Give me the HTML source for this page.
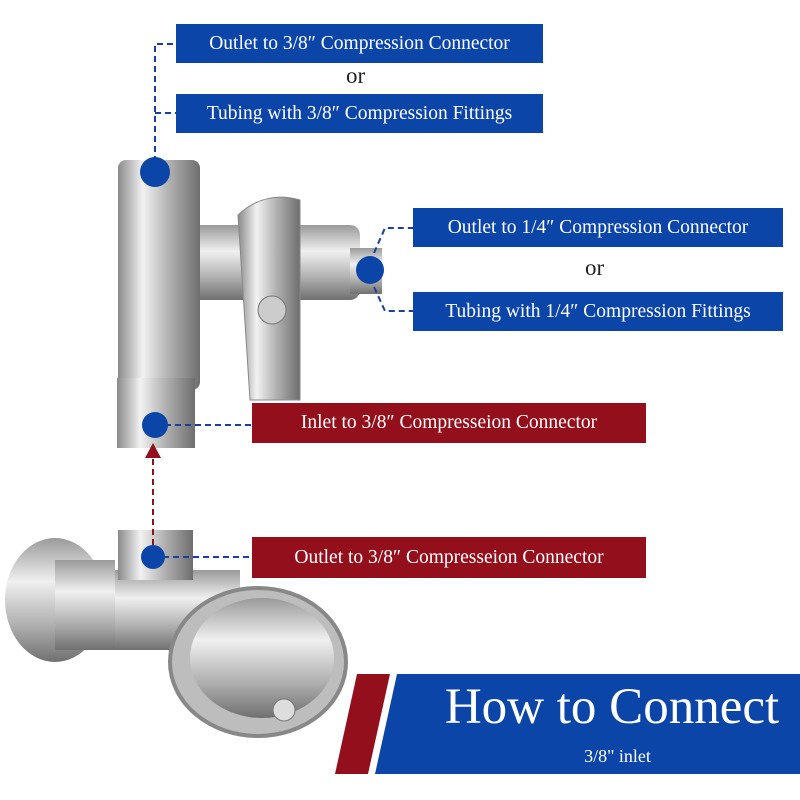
<!DOCTYPE html>
<html><head><style>
body{margin:0;width:800px;height:800px;background:#fff;position:relative;overflow:hidden;font-family:"Liberation Serif",serif}
.b{position:absolute;color:#fff;font-size:19.5px;display:flex;align-items:center;justify-content:center;white-space:nowrap}
.bl{background:#0b45a8}.rd{background:#930f1c}
.t{position:absolute;font-size:23px;color:#222}
</style></head><body>
<svg width="800" height="800" style="position:absolute;left:0;top:0">
<defs>
<linearGradient id="m" x1="0" x2="1"><stop offset="0" stop-color="#8a8a8a"/><stop offset=".3" stop-color="#f2f2f2"/><stop offset=".6" stop-color="#b5b5b5"/><stop offset="1" stop-color="#6e6e6e"/></linearGradient>
<linearGradient id="mv" x1="0" y1="0" x2="0" y2="1"><stop offset="0" stop-color="#9a9a9a"/><stop offset=".35" stop-color="#f0f0f0"/><stop offset=".7" stop-color="#b0b0b0"/><stop offset="1" stop-color="#707070"/></linearGradient>
</defs>
<rect x="190" y="225" width="170" height="75" rx="10" fill="url(#mv)"/>
<rect x="350" y="248" width="32" height="46" fill="url(#mv)"/>
<rect x="118" y="160" width="82" height="230" rx="8" fill="url(#m)"/>
<rect x="117" y="378" width="78" height="70" fill="url(#m)"/>
<path d="M238 215 Q265 190 300 200 L300 400 L250 400 Z" fill="url(#m)" stroke="#888"/>
<circle cx="272" cy="310" r="14" fill="#ccc" stroke="#777"/>
<rect x="100" y="570" width="140" height="80" fill="url(#mv)"/>
<rect x="118" y="530" width="75" height="50" fill="url(#m)"/>
<ellipse cx="55" cy="600" rx="50" ry="62" fill="url(#mv)"/>
<rect x="55" y="560" width="60" height="90" fill="url(#mv)"/>
<ellipse cx="258" cy="662" rx="88" ry="74" fill="#bdbdbd" stroke="#888" stroke-width="4"/>
<ellipse cx="262" cy="658" rx="72" ry="60" fill="url(#mv)"/>
<circle cx="284" cy="710" r="11" fill="#ddd" stroke="#777"/>
<g stroke="#1a3fa0" stroke-width="2" stroke-dasharray="6,4" fill="none">
<path d="M155 172 V44 H176"/><path d="M155 113 H176"/>
<path d="M370 262 L385 228 H413"/><path d="M370 278 L385 311 H413"/>
<path d="M155 425 H252"/><path d="M153 557 H252"/>
</g>
<path d="M153 545 V455" stroke="#930f1c" stroke-width="2" stroke-dasharray="6,4"/>
<path d="M145 458 L153 443 L161 458 Z" fill="#930f1c"/>
<g fill="#0b45a8"><circle cx="155" cy="172" r="15"/><circle cx="370" cy="270" r="14"/><circle cx="155" cy="425" r="13"/><circle cx="153" cy="557" r="12"/></g>
<path d="M357 674 H390 L368 774 H335 Z" fill="#930f1c"/>
<path d="M397 674 H800 V774 H375 Z" fill="#0b45a8"/>
</svg>
<div class="b bl" style="left:176px;top:24px;width:367px;height:39px">Outlet to 3/8″ Compression Connector</div>
<div class="t" style="left:346px;top:63px">or</div>
<div class="b bl" style="left:176px;top:94px;width:367px;height:39px">Tubing with 3/8″ Compression Fittings</div>
<div class="b bl" style="left:413px;top:208px;width:370px;height:39px">Outlet to 1/4″ Compression Connector</div>
<div class="t" style="left:585px;top:255px">or</div>
<div class="b bl" style="left:413px;top:292px;width:370px;height:39px">Tubing with 1/4″ Compression Fittings</div>
<div class="b rd" style="left:252px;top:403px;width:394px;height:40px">Inlet to 3/8″ Compresseion Connector</div>
<div class="b rd" style="left:252px;top:537px;width:394px;height:41px">Outlet to 3/8″ Compresseion Connector</div>
<div style="position:absolute;left:412px;top:678px;width:400px;text-align:center;color:#fff;font-size:51px;white-space:nowrap">How to Connect</div>
<div style="position:absolute;left:420px;top:746px;width:395px;text-align:center;color:#fff;font-size:18px">3/8" inlet</div>
</body></html>
